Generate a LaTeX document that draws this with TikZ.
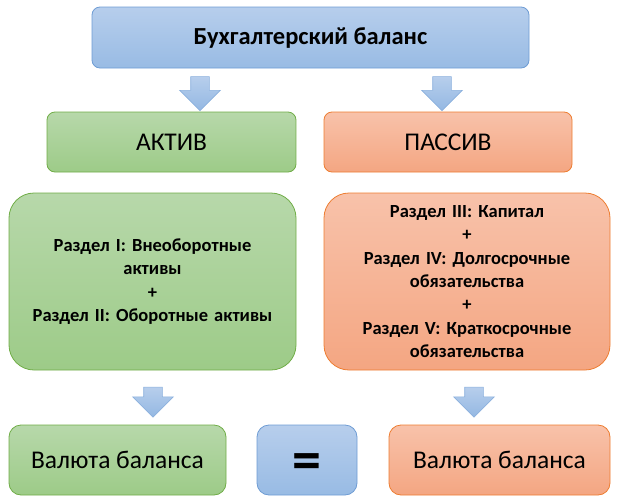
\documentclass[tikz,border=0pt]{standalone}
\usepackage{fontspec}
\setmainfont{Carlito}
\usetikzlibrary{shapes.arrows}
\definecolor{bluetop}{RGB}{183,206,236}
\definecolor{bluebot}{RGB}{152,187,228}
\definecolor{blueline}{RGB}{110,156,212}
\definecolor{greentop}{RGB}{183,216,170}
\definecolor{greenbot}{RGB}{157,203,136}
\definecolor{greenline}{RGB}{112,173,71}
\definecolor{orangetop}{RGB}{248,194,170}
\definecolor{orangebot}{RGB}{244,166,130}
\definecolor{orangeline}{RGB}{237,125,49}

\begin{document}
\begin{tikzpicture}[
    x=1pt, y=-1pt,
    box/.style={rectangle, rounded corners=8pt, line width=0.8pt, align=center, inner sep=0pt},
    bluebox/.style={box, draw=blueline, top color=bluetop, bottom color=bluebot},
    greenbox/.style={box, draw=greenline, top color=greentop, bottom color=greenbot},
    orangebox/.style={box, draw=orangeline, top color=orangetop, bottom color=orangebot},
    downarrow/.style={single arrow, shape border rotate=270, draw=blueline!80, line width=0.6pt,
        top color=bluetop, bottom color=bluebot!90!blueline, inner sep=9pt,
        minimum width=40pt, single arrow head extend=11pt},
    sect/.style={font=\bfseries\fontsize{18.5}{23.3}\selectfont, text width=284pt},
    big/.style={font=\fontsize{25.5}{28}\selectfont}
]
\useasboundingbox (0,0) rectangle (622,504);

% Title
\node[bluebox, minimum width=437pt, minimum height=61pt, font=\bfseries\fontsize{24.5}{28}\selectfont]
    (balance) at (310.5,37.5) {Бухгалтерский баланс};

% Active and passive
\node[greenbox, minimum width=249pt, minimum height=60pt, big] (active) at (171.5,142) {АКТИВ};
\node[orangebox, minimum width=248pt, minimum height=60pt, big] (passive) at (448,142) {ПАССИВ};

% Sections
\node[greenbox, rounded corners=25pt, minimum width=287pt, minimum height=177pt, sect]
    (sect12) at (152.5,281.5) {Раздел I: Внеоборотные\\активы\\+\\Раздел II: Оборотные активы};
\node[orangebox, rounded corners=25pt, minimum width=286pt, minimum height=177pt, sect]
    (sect345) at (467,281.5) {Раздел III: Капитал\\+\\Раздел IV: Долгосрочные\\обязательства\\+\\Раздел V: Краткосрочные\\обязательства};

% Totals
\node[greenbox, rounded corners=12pt, minimum width=217pt, minimum height=70pt, big]
    (totalleft) at (117.5,460) {Валюта баланса};
\node[bluebox, rounded corners=12pt, minimum width=100pt, minimum height=70pt, font=\bfseries\fontsize{58}{58}\selectfont]
    (equal) at (307,460) {\raisebox{-19pt}[0pt][0pt]{=}};
\node[orangebox, rounded corners=12pt, minimum width=221pt, minimum height=70pt, big]
    (totalright) at (499.5,460) {Валюта баланса};

% Arrows
\node[downarrow, minimum height=34pt] (arrowa) at (200,89) {};
\node[downarrow, minimum height=34pt] (arrowp) at (442,89) {};
\node[downarrow, minimum height=30pt] (arrowl) at (153,397.5) {};
\node[downarrow, minimum height=30pt] (arrowr) at (474,397.5) {};

\end{tikzpicture}
\end{document}
